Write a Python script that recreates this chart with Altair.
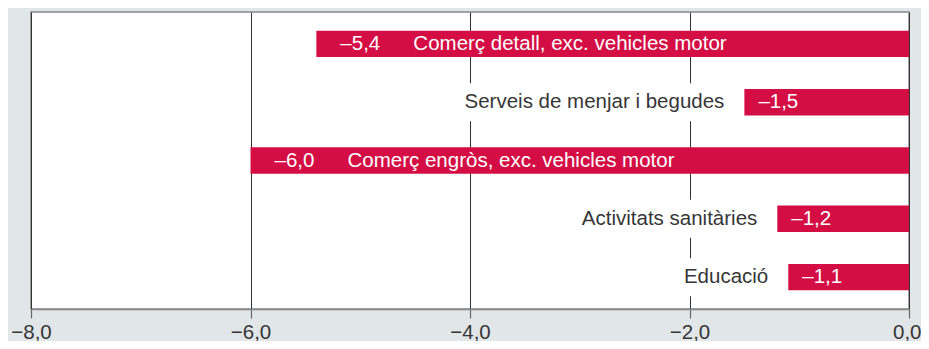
import altair as alt
import pandas as pd

categories = [
    "Comerç detall, exc. vehicles motor",
    "Serveis de menjar i begudes",
    "Comerç engròs, exc. vehicles motor",
    "Activitats sanitàries",
    "Educació",
]
values = [-5.4, -1.5, -6.0, -1.2, -1.1]
tick_values = [-8, -6, -4, -2, 0]

BAR = "#d40e45"
BG = "#e1e6e9"
TEXT = "#363636"
FONT = "Liberation Sans"
FS = 20.5
PX_PER_UNIT = 878 / 8.0

rows = []
for c, v in zip(categories, values):
    inside = v <= -3
    lab = f"{v:.1f}".replace(".", ",").replace("-", "\u2013")
    # white box behind outside labels (hides gridlines), derived from label length
    box_w = (len(c) * 10.4 + 30) / PX_PER_UNIT
    rows.append({"cat": c, "val": v, "lab": lab, "inside": inside,
                 "box_end": v - box_w, "zero": 0})
df = pd.DataFrame(rows)

y_enc = alt.Y("cat:N", sort=categories, axis=None,
              scale=alt.Scale(paddingInner=0.547, paddingOuter=0.32))
x_scale = alt.Scale(domain=[-8, 0], nice=False, zero=False)

base = alt.Chart(df)

boxes = base.transform_filter("!datum.inside").mark_bar(color="white", size=38).encode(
    x=alt.X("val:Q", scale=x_scale), x2="box_end:Q", y=y_enc)

bars = base.mark_bar(color=BAR).encode(
    x=alt.X("val:Q", scale=x_scale,
            axis=alt.Axis(
                values=tick_values, title=None, grid=True,
                labelExpr="replace(replace(format(datum.value, '.1f'), '.', ','), '-', '\u2013')",
                labelAlign={"condition": {"test": "datum.value === 0", "value": "right"}, "value": "center"},
                labelOffset={"condition": {"test": "datum.value === 0", "value": 12}, "value": 0},
            )),
    x2="zero:Q",
    y=y_enc,
)

val_in = base.transform_filter("datum.inside").mark_text(
    align="left", baseline="middle", dx=24, color="white", font=FONT, fontSize=FS
).encode(x=alt.X("val:Q", scale=x_scale), y=y_enc, text="lab:N")

cat_in = base.transform_filter("datum.inside").mark_text(
    align="left", baseline="middle", dx=97, color="white", font=FONT, fontSize=FS
).encode(x=alt.X("val:Q", scale=x_scale), y=y_enc, text="cat:N")

val_out = base.transform_filter("!datum.inside").mark_text(
    align="left", baseline="middle", dx=14, color="white", font=FONT, fontSize=FS
).encode(x=alt.X("val:Q", scale=x_scale), y=y_enc, text="lab:N")

cat_out = base.transform_filter("!datum.inside").mark_text(
    align="right", baseline="middle", dx=-20, color=TEXT, font=FONT, fontSize=FS
).encode(x=alt.X("val:Q", scale=x_scale), y=y_enc, text="cat:N")

chart = alt.layer(boxes, bars, val_in, cat_in, val_out, cat_out).properties(
    width=878, height=297,
    autosize=alt.AutoSizeParams(type="none"),
    padding={"left": 23, "top": 4, "right": 12, "bottom": 32},
    background=BG,
).configure_view(
    fill="white", stroke="#888888", strokeWidth=1.5
).configure_axisX(
    domainColor="#888888", domainWidth=1.5,
    gridColor="#333333", gridWidth=1, gridOpacity=1,
    tickColor="#666666", tickSize=9, tickWidth=1.2,
    labelFont=FONT, labelFontSize=FS, labelColor=TEXT,
    labelPadding=4, labelFlush=False,
)

chart.save("out.html", embed_options={"renderer": "svg", "actions": False})
